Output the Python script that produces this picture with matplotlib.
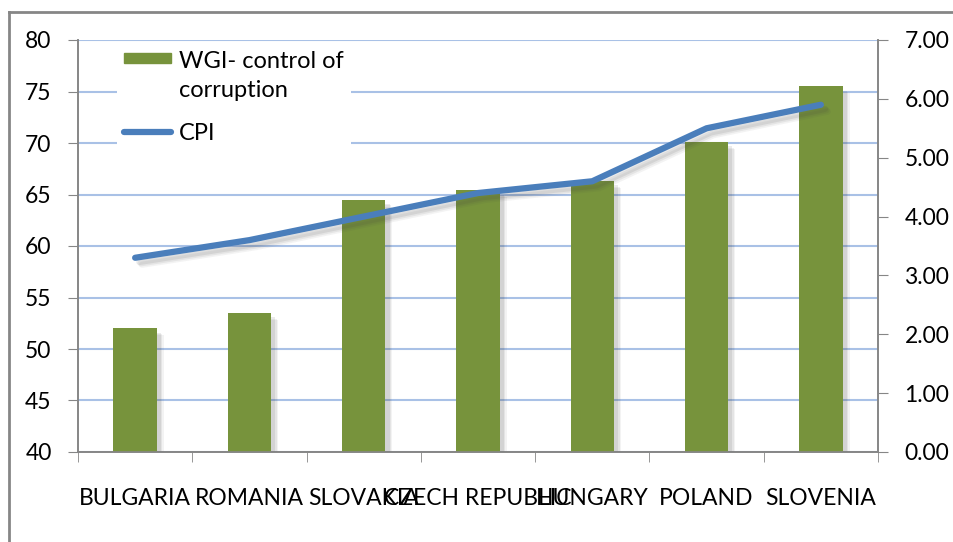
import matplotlib.pyplot as plt
import matplotlib.patheffects as pe
from matplotlib.lines import Line2D
from matplotlib.patches import Rectangle
from matplotlib.legend_handler import HandlerPatch
import numpy as np

countries = ['BULGARIA', 'ROMANIA', 'SLOVAKIA', 'CZECH REPUBLIC', 'HUNGARY', 'POLAND', 'SLOVENIA']
wgi = [52.0, 53.5, 64.5, 65.4, 66.3, 70.1, 75.5]
cpi = [3.3, 3.6, 4.0, 4.4, 4.6, 5.5, 5.9]
left_ticks = [40, 45, 50, 55, 60, 65, 70, 75, 80]
right_ticks = [0, 1, 2, 3, 4, 5, 6, 7]

plt.rcParams['font.family'] = ['Lato', 'DejaVu Sans']

fig = plt.figure(figsize=(9.54, 5.42), dpi=100)
ax = fig.add_axes([78/954, 1-452/542, 800/954, 412/542])
ax2 = ax.twinx()

# soft drop shadow, a few stacked layers
def soft_shadow(kind):
    fx = []
    for off, al in [((5, -5), 0.06), ((4, -4), 0.08), ((3, -3), 0.1)]:
        if kind == 'patch':
            fx.append(pe.SimplePatchShadow(offset=off, shadow_rgbFace='#404040', alpha=al))
        else:
            fx.append(pe.SimpleLineShadow(offset=off, shadow_color='#404040', alpha=al))
    fx.append(pe.Normal())
    return fx

x = np.arange(len(countries))
bars = ax.bar(x, np.array(wgi) - 40, bottom=40, width=0.38, color='#77933c',
              label='WGI- control of\ncorruption', zorder=3)
for b in bars:
    b.set_path_effects(soft_shadow('patch'))

line, = ax2.plot(x, cpi, color='#4a7ebb', lw=4.5, solid_capstyle='round', solid_joinstyle='round',
                 label='CPI', zorder=4, path_effects=soft_shadow('line'))

ax.set_xlim(-0.5, len(countries) - 0.5)
ax.set_ylim(40, 80)
ax2.set_ylim(0, 7)
ax.set_yticks(left_ticks)
ax2.set_yticks(right_ticks)
ax2.set_yticklabels(['%.2f' % v for v in right_ticks])
ax.grid(axis='y', color='#a9c1e6', lw=1.5, zorder=0)
ax.set_axisbelow(True)

ax.set_xticks(x)
ax.set_xticklabels(countries)
ax.tick_params(axis='x', length=0, pad=26, labelsize=16.5)
ax.set_xticks(np.arange(len(countries) + 1) - 0.5, minor=True)
ax.tick_params(axis='x', which='minor', length=7, color='#868686', direction='out')
ax.tick_params(axis='y', labelsize=16.5, length=7, color='#868686', pad=12)
ax2.tick_params(axis='y', labelsize=16.5, length=7, color='#868686', pad=12)

for a in (ax, ax2):
    a.spines['top'].set_visible(False)
    for s in ('left', 'right', 'bottom'):
        a.spines[s].set_color('#868686')
        a.spines[s].set_linewidth(1.2)

# bar key sits beside the first line of its two-line label
def top_patch(legend, orig_handle, xdescent, ydescent, width, height, fontsize):
    return Rectangle((-xdescent, -ydescent + height * 0.5 + 0.55 * fontsize), width, 7)

bar_key = Rectangle((0, 0), 1, 1, color='#77933c')
leg = ax2.legend(handles=[bar_key, line], labels=['WGI- control of\ncorruption', 'CPI'],
                 loc='upper left', bbox_to_anchor=(105/954, 1-32/542),
                 bbox_transform=fig.transFigure, fontsize=17,
                 frameon=True, facecolor='white', edgecolor='none', framealpha=1, fancybox=False,
                 handlelength=2.0, handletextpad=0.34, labelspacing=0.95, borderpad=0.3,
                 handleheight=0.6, handler_map={bar_key: HandlerPatch(patch_func=top_patch)})
leg.set_zorder(10)
leg.get_texts()[0].set_linespacing(1.45)
for h in leg.legend_handles:
    h.set_path_effects([pe.Normal()])

# outer chart frame
fig.add_artist(Line2D([9/954, 1], [1-12/542, 1-12/542], color='#868686', lw=2))
fig.add_artist(Line2D([9/954, 9/954], [0, 1-12/542], color='#868686', lw=2))

plt.savefig('out.png', dpi=100)
